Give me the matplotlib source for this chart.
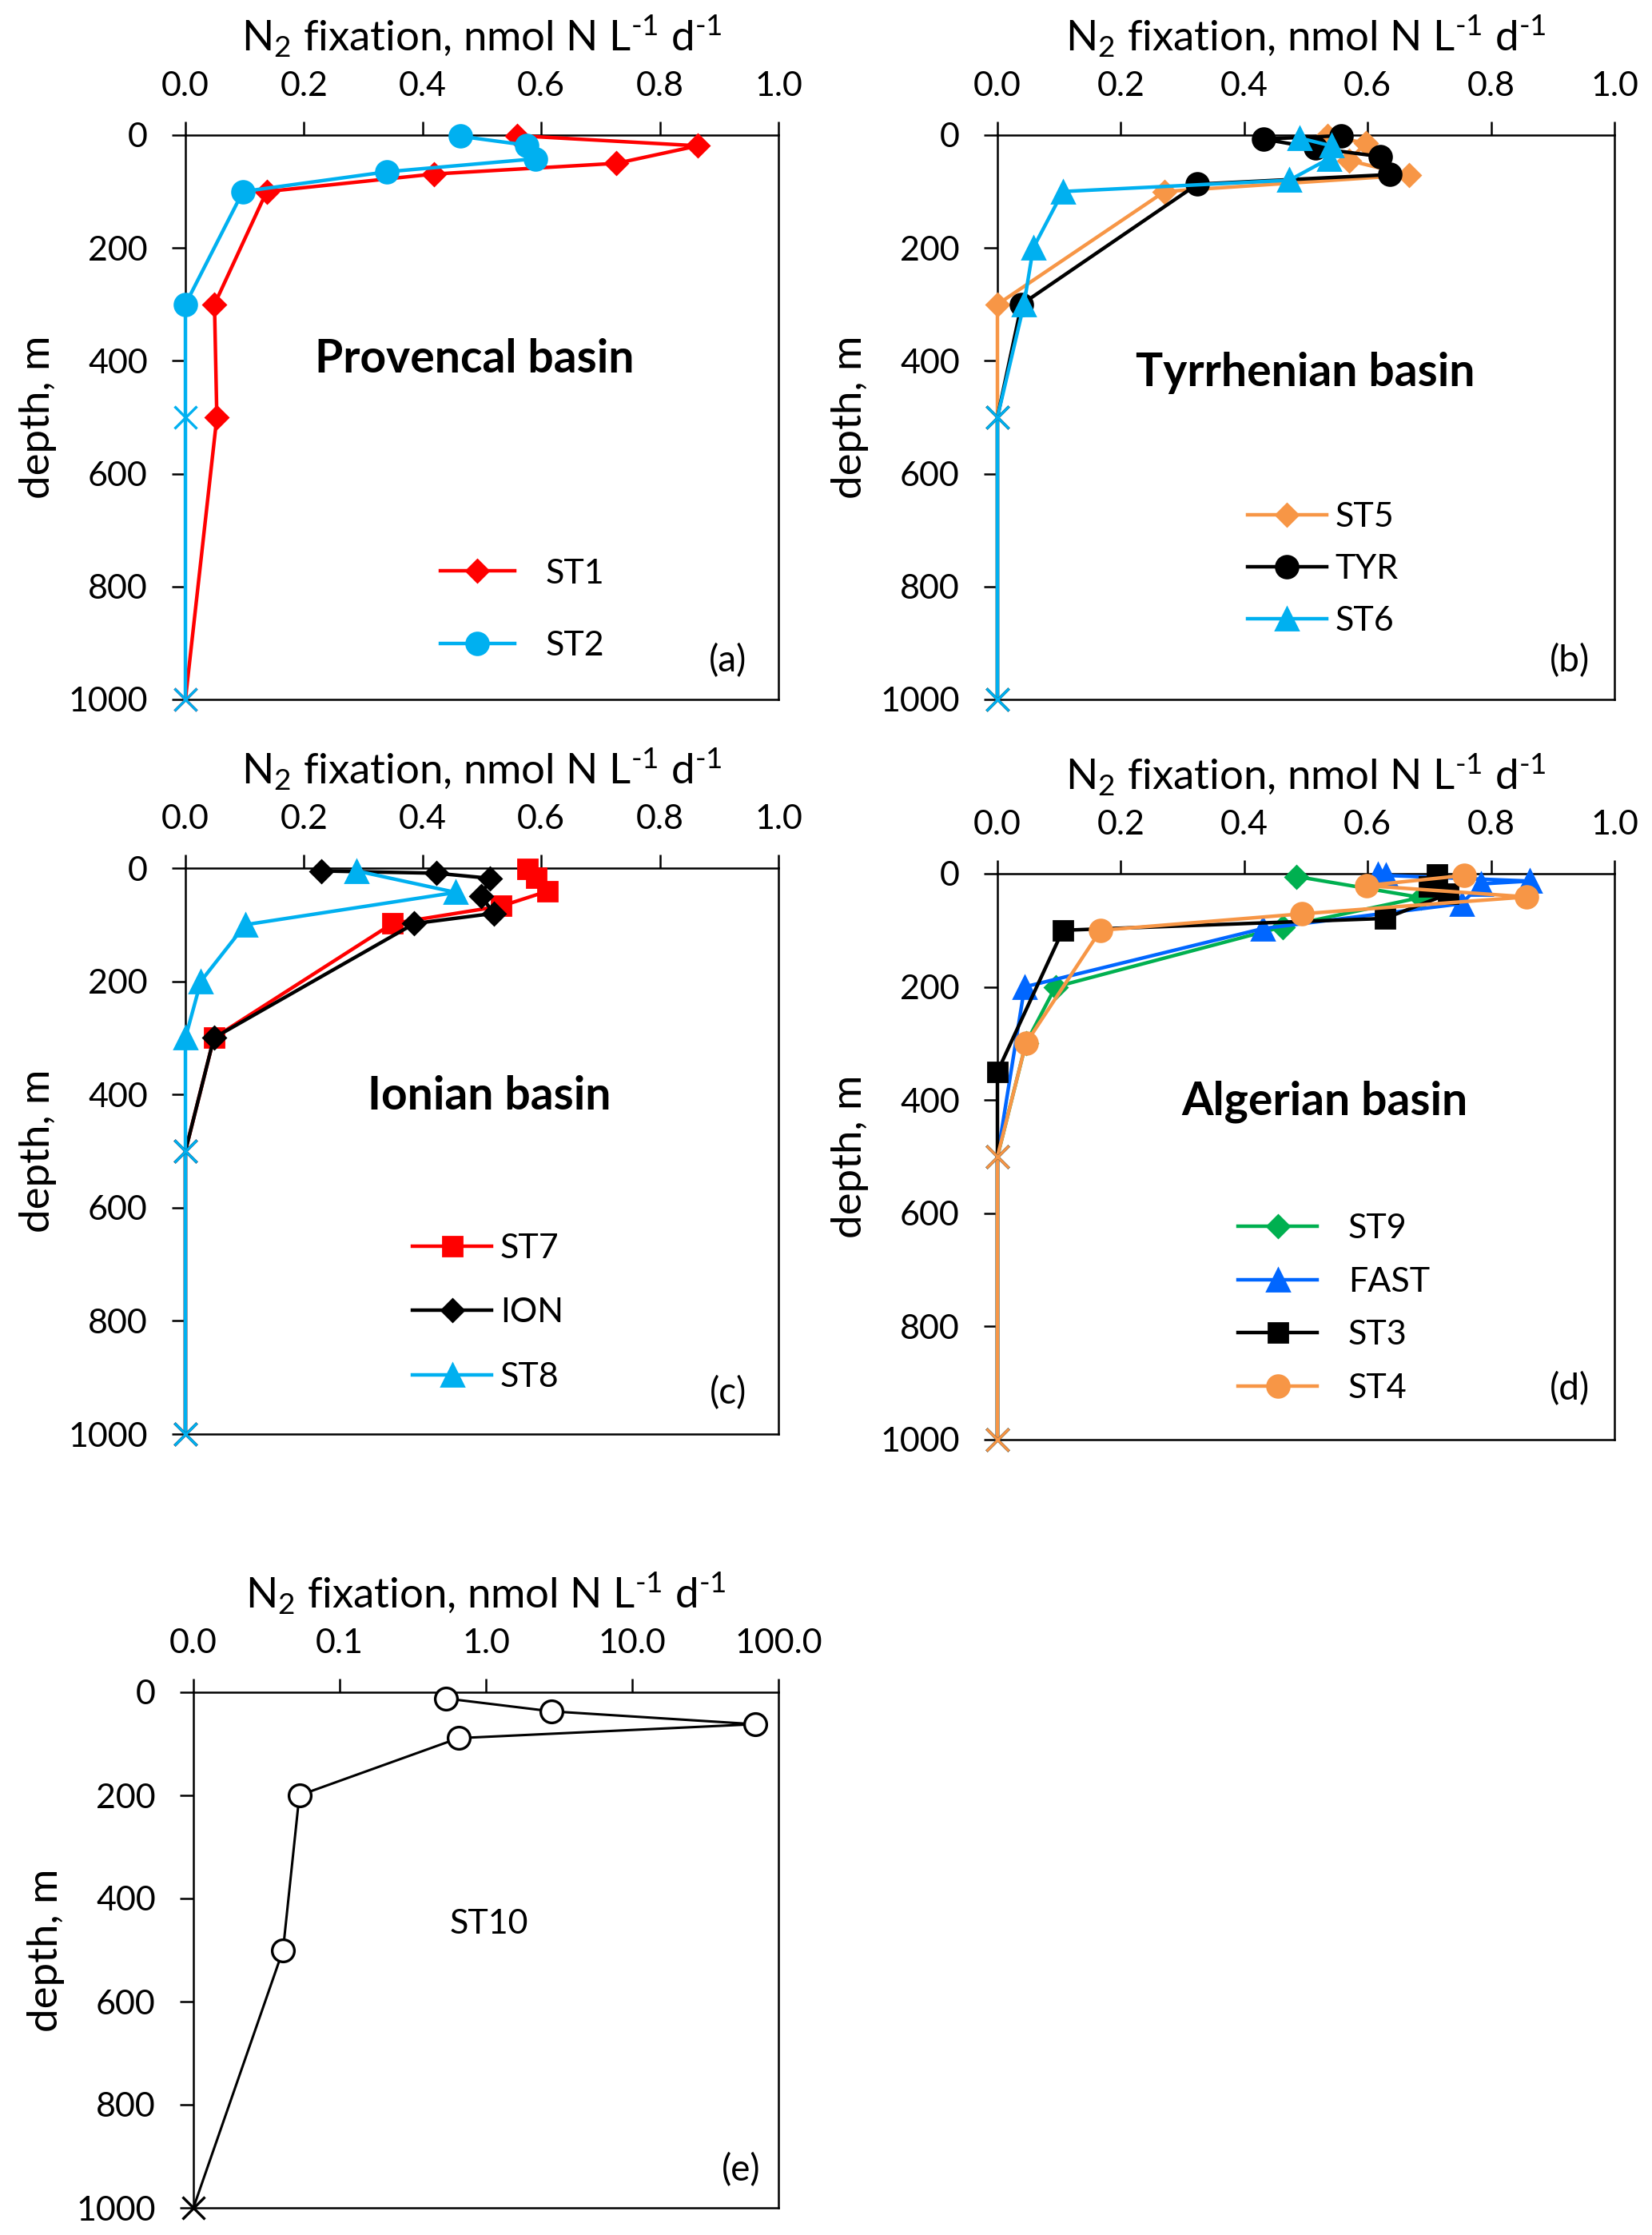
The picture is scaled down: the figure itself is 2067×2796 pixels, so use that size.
import numpy as np
import matplotlib
matplotlib.use('Agg')
import matplotlib.pyplot as plt
from matplotlib.lines import Line2D
from matplotlib.ticker import FuncFormatter, NullLocator

plt.rcParams['font.family'] = ['Lato', 'DejaVu Sans']
plt.rcParams['mathtext.default'] = 'regular'

# ---------------- data ----------------
# (a) Provencal basin
st1_depth = [1, 19, 50, 69, 100, 300, 500, 1000]
st1_val = [0.559, 0.864, 0.727, 0.419, 0.137, 0.049, 0.053, 0.0]
st1_nd = [0, 0, 0, 0, 0, 0, 0, 1]
st2_depth = [2, 18, 42, 65, 100, 300, 500, 1000]
st2_val = [0.463, 0.576, 0.590, 0.340, 0.097, 0.0, 0.0, 0.0]
st2_nd = [0, 0, 0, 0, 0, 0, 1, 1]

# (b) Tyrrhenian basin
st5_depth = [2, 14, 45, 71, 100, 300, 500, 1000]
st5_val = [0.535, 0.597, 0.570, 0.667, 0.271, 0.0, 0.0, 0.0]
st5_nd = [0, 0, 0, 0, 0, 0, 1, 1]
tyr_depth = [1, 7, 23, 38, 70, 87, 300, 500, 1000]
tyr_val = [0.557, 0.431, 0.515, 0.621, 0.636, 0.324, 0.039, 0.0, 0.0]
tyr_nd = [0, 0, 0, 0, 0, 0, 0, 1, 1]
st6_depth = [5, 19, 42, 80, 100, 200, 300, 500, 1000]
st6_val = [0.489, 0.541, 0.537, 0.473, 0.106, 0.058, 0.043, 0.0, 0.0]
st6_nd = [0, 0, 0, 0, 0, 0, 0, 1, 1]

# (c) Ionian basin
st7_depth = [1, 17, 41, 67, 98, 300, 500, 1000]
st7_val = [0.577, 0.592, 0.610, 0.533, 0.349, 0.048, 0.0, 0.0]
st7_nd = [0, 0, 0, 0, 0, 0, 1, 1]
ion_depth = [5, 9, 18, 50, 80, 98, 300, 500, 1000]
ion_val = [0.229, 0.423, 0.513, 0.499, 0.520, 0.386, 0.048, 0.0, 0.0]
ion_nd = [0, 0, 0, 0, 0, 0, 0, 1, 1]
st8_depth = [5, 43, 100, 200, 300, 500, 1000]
st8_val = [0.289, 0.456, 0.101, 0.026, 0.0, 0.0, 0.0]
st8_nd = [0, 0, 0, 0, 0, 1, 1]

# (d) Algerian basin
st9_depth = [5, 42, 94, 200, 300, 500, 1000]
st9_val = [0.485, 0.686, 0.462, 0.094, 0.046, 0.0, 0.0]
st9_nd = [0, 0, 0, 0, 0, 1, 1]
fast_depth = [1, 3, 13, 18, 53, 97, 200, 500, 1000]
fast_val = [0.617, 0.629, 0.863, 0.784, 0.752, 0.430, 0.044, 0.0, 0.0]
fast_nd = [0, 0, 0, 0, 0, 0, 0, 1, 1]
st3_depth = [1, 22, 36, 79, 100, 350, 500, 1000]
st3_val = [0.712, 0.699, 0.730, 0.628, 0.106, 0.0, 0.0, 0.0]
st3_nd = [0, 0, 0, 0, 0, 0, 1, 1]
st4_depth = [3, 21, 41, 71, 100, 300, 500, 1000]
st4_val = [0.757, 0.598, 0.858, 0.493, 0.167, 0.046, 0.0, 0.0]
st4_nd = [0, 0, 0, 0, 0, 0, 1, 1]

# (e) ST10 (log scale)
st10_depth = [12, 37, 62, 89, 200, 500, 1000]
st10_val = [0.53, 2.8, 69.0, 0.65, 0.053, 0.041, 0.0]
st10_nd = [0, 0, 0, 0, 0, 0, 1]

lin_ticks = [0.0, 0.2, 0.4, 0.6, 0.8, 1.0]
log_ticks = [0.01, 0.1, 1.0, 10.0, 100.0]
depth_ticks = [0, 200, 400, 600, 800, 1000]

xlabel = 'N$_2$ fixation, nmol N L$^{\u20101}$ d$^{\u20101}$'

# ---------------- figure ----------------
W, H, DPI = 2067, 2796, 200
fig = plt.figure(figsize=(W / DPI, H / DPI), dpi=DPI)


def px_axes(l, r, t, b):
    return fig.add_axes([l / W, 1 - b / H, (r - l) / W, (b - t) / H])


TICK_FS = 15.5
LAB_FS = 19
LEG_FS = 15.5
TITLE_FS = 20.5


def setup(ax, log=False):
    ax.set_ylim(1000, 0)
    ax.set_yticks(depth_ticks)
    ax.xaxis.set_ticks_position('top')
    ax.xaxis.set_label_position('top')
    if log:
        ax.set_xscale('log')
        ax.set_xlim(log_ticks[0], log_ticks[-1])
        ax.set_xticks(log_ticks)
        ax.xaxis.set_minor_locator(NullLocator())
    else:
        ax.set_xlim(lin_ticks[0], lin_ticks[-1])
        ax.set_xticks(lin_ticks)
    ax.xaxis.set_major_formatter(FuncFormatter(lambda v, p: '%.1f' % v))
    ax.tick_params(axis='both', direction='out', length=6, width=0.9,
                   labelsize=TICK_FS)
    ax.tick_params(axis='x', pad=9)
    ax.tick_params(axis='y', pad=11)
    for s in ax.spines.values():
        s.set_linewidth(0.9)
    ax.set_xlabel(xlabel, fontsize=LAB_FS, labelpad=9)
    ax.set_ylabel('depth, m', fontsize=LAB_FS, labelpad=5)


def plot_series(ax, depth, val, nd, color, marker, ms, lw=1.6, log=False,
                mfc=None):
    d = np.asarray(depth, float)
    v = np.asarray(val, float)
    n = np.asarray(nd, bool)
    if log:
        v = np.where(v <= 0, ax.get_xlim()[0], v)
    keep = list(np.where(~n)[0])
    ax.plot(v, d, color=color, lw=lw, marker=marker, ms=ms,
            markevery=keep, mfc=mfc if mfc else color, mec=color,
            mew=1.2 if mfc else 1.0, clip_on=False, zorder=3)
    if n.any():
        ax.plot(v[n], d[n], ls='none', marker='x', ms=10, mew=1.2,
                color=color, clip_on=False, zorder=4)
    return Line2D([], [], color=color, lw=lw, marker=marker, ms=ms,
                  mfc=mfc if mfc else color, mec=color)


def legend(ax, handles, labels, x, y, spacing, tpad=0.25, hlen=2.3):
    ax.legend(handles, labels, loc='upper left', bbox_to_anchor=(x, y),
              frameon=False, fontsize=LEG_FS, handlelength=hlen,
              handletextpad=tpad, labelspacing=spacing, borderaxespad=0,
              borderpad=0)


RED = '#FF0000'
LBLUE = '#00B0F0'
ORANGE = '#F79646'
BLACK = '#000000'
GREEN = '#00B050'
BLUE = '#0066FF'

# (a)
axa = px_axes(232, 974, 169, 875)
setup(axa)
h1 = plot_series(axa, st1_depth, st1_val, st1_nd, RED, 'D', 7)
h2 = plot_series(axa, st2_depth, st2_val, st2_nd, LBLUE, 'o', 10)
legend(axa, [h1, h2], ['ST1', 'ST2'], 0.43, 0.25, 1.21, tpad=0.9, hlen=2.15)
axa.text(0.488, 0.603, 'Provencal basin', transform=axa.transAxes,
         ha='center', va='center', fontsize=TITLE_FS, fontweight='bold')
axa.text(0.915, 0.069, '(a)', transform=axa.transAxes, ha='center',
         va='center', fontsize=16.5)

# (b)
axb = px_axes(1248, 2020, 169, 875)
setup(axb)
h5 = plot_series(axb, st5_depth, st5_val, st5_nd, ORANGE, 'D', 7)
ht = plot_series(axb, tyr_depth, tyr_val, tyr_nd, BLACK, 'o', 10)
h6 = plot_series(axb, st6_depth, st6_val, st6_nd, LBLUE, '^', 10)
legend(axb, [h5, ht, h6], ['ST5', 'TYR', 'ST6'], 0.405, 0.35, 0.63)
axb.text(0.499, 0.578, 'Tyrrhenian basin', transform=axb.transAxes,
         ha='center', va='center', fontsize=TITLE_FS, fontweight='bold')
axb.text(0.927, 0.069, '(b)', transform=axb.transAxes, ha='center',
         va='center', fontsize=16.5)

# (c)
axc = px_axes(232, 974, 1086, 1794)
setup(axc)
h7 = plot_series(axc, st7_depth, st7_val, st7_nd, RED, 's', 8.5)
hi = plot_series(axc, ion_depth, ion_val, ion_nd, BLACK, 'D', 7)
h8 = plot_series(axc, st8_depth, st8_val, st8_nd, LBLUE, '^', 10)
legend(axc, [h7, hi, h8], ['ST7', 'ION', 'ST8'], 0.383, 0.355, 0.99)
axc.text(0.512, 0.597, 'Ionian basin', transform=axc.transAxes,
         ha='center', va='center', fontsize=TITLE_FS, fontweight='bold')
axc.text(0.915, 0.073, '(c)', transform=axc.transAxes, ha='center',
         va='center', fontsize=16.5)

# (d)
axd = px_axes(1248, 2020, 1093, 1801)
setup(axd)
h9 = plot_series(axd, st9_depth, st9_val, st9_nd, GREEN, 'D', 7)
hf = plot_series(axd, fast_depth, fast_val, fast_nd, BLUE, '^', 10)
h3 = plot_series(axd, st3_depth, st3_val, st3_nd, BLACK, 's', 8.5)
h4 = plot_series(axd, st4_depth, st4_val, st4_nd, ORANGE, 'o', 10)
legend(axd, [h9, hf, h3, h4], ['ST9', 'FAST', 'ST3', 'ST4'], 0.39, 0.40,
       0.67, tpad=0.9)
axd.text(0.531, 0.597, 'Algerian basin', transform=axd.transAxes,
         ha='center', va='center', fontsize=TITLE_FS, fontweight='bold')
axd.text(0.927, 0.089, '(d)', transform=axd.transAxes, ha='center',
         va='center', fontsize=16.5)

# (e)
axe = px_axes(242, 974, 2117, 2762)
setup(axe, log=True)
plot_series(axe, st10_depth, st10_val, st10_nd, BLACK, 'o', 10, lw=1.1,
            log=True, mfc='white')
axe.text(0.505, 0.55, 'ST10', transform=axe.transAxes, ha='center',
         va='center', fontsize=LEG_FS)
axe.text(0.936, 0.074, '(e)', transform=axe.transAxes, ha='center',
         va='center', fontsize=16.5)

fig.savefig('out.png', dpi=DPI)
